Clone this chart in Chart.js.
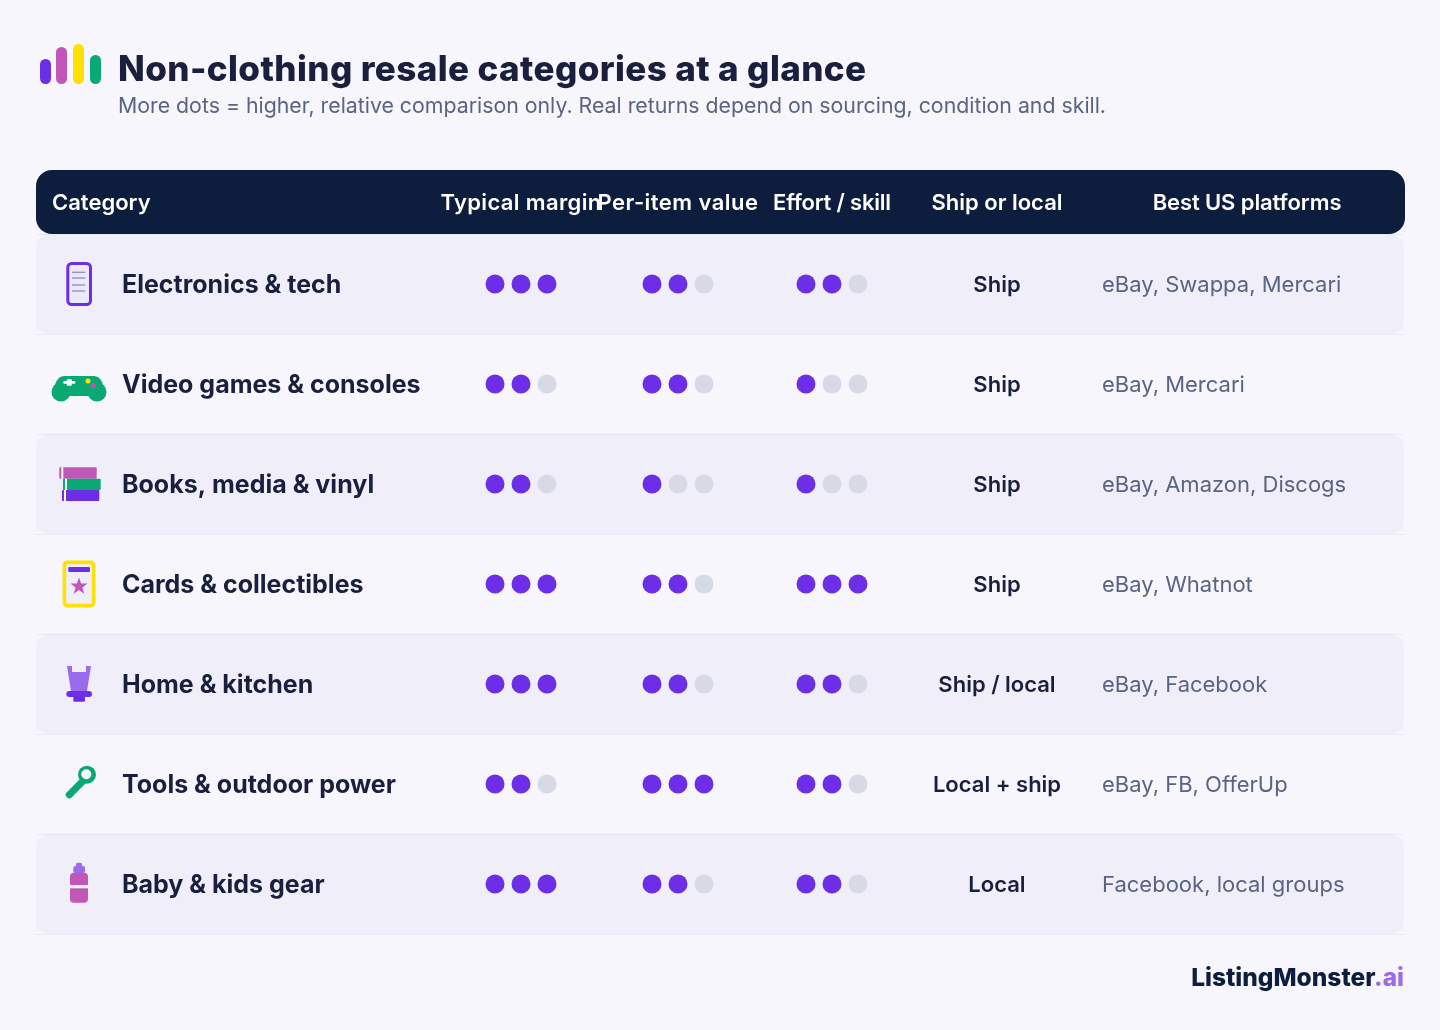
<!DOCTYPE html>
<html>
<head>
<meta charset="utf-8">
<title>Non-clothing resale categories at a glance</title>
<script src="https://cdn.jsdelivr.net/npm/chart.js@4"></script>
<style>
    html, body { margin: 0; padding: 0; background: #f7f6fc; }
    body { position: relative; width: 1440px; height: 1030px; overflow: hidden; font-family: Inter, sans-serif; }
    canvas { position: absolute; left: 0; top: 0; }
    .abs { position: absolute; white-space: nowrap; }
    #title { left: 118px; top: 45px; line-height: 46px; font-size: 35px; font-weight: 800; color: #1a1f3d; letter-spacing: 0.4px; }
    #subtitle { left: 118px; top: 91px; line-height: 28px; font-size: 21.3px; color: #5a6482; }
    #headBar { left: 36px; top: 170px; width: 1368.5px; height: 64px; border-radius: 16px; background: #0d1d3d; }
    .head { top: 170px; line-height: 64px; font-size: 22px; font-weight: 600; color: #fff; transform: translateX(-50%); }
    #footer { right: 36px; top: 960px; line-height: 34px; font-size: 24.5px; font-weight: 800; color: #0d1d3d; }
    #footer span { color: #9a6bed; }
    .logoBar { position: absolute; width: 10.7px; bottom: 946px; border-radius: 5.4px; }
</style>
</head>
<body>
<canvas id="chart" width="1440" height="1030"></canvas>

<div class="logoBar" style="left:40px;height:25.3px;background:#6d2ee8"></div>
<div class="logoBar" style="left:56.3px;height:37.3px;background:#bf56b8"></div>
<div class="logoBar" style="left:73.3px;height:40px;background:#ffe000"></div>
<div class="logoBar" style="left:90px;height:29.3px;background:#0aa973"></div>

<div id="title" class="abs">Non-clothing resale categories at a glance</div>
<div id="subtitle" class="abs">More dots = higher, relative comparison only. Real returns depend on sourcing, condition and skill.</div>
<div id="headBar" class="abs"></div>
<div id="headers"></div>
<div id="footer" class="abs">ListingMonster<span>.ai</span></div>

<script>
const categories = ['Electronics & tech', 'Video games & consoles', 'Books, media & vinyl', 'Cards & collectibles', 'Home & kitchen', 'Tools & outdoor power', 'Baby & kids gear'];
const marginDots = [3, 2, 2, 3, 3, 2, 3];
const valueDots = [2, 2, 1, 2, 2, 3, 2];
const effortDots = [2, 1, 1, 3, 2, 2, 2];
const shipping = ['Ship', 'Ship', 'Ship', 'Ship', 'Ship / local', 'Local + ship', 'Local'];
const platforms = ['eBay, Swappa, Mercari', 'eBay, Mercari', 'eBay, Amazon, Discogs', 'eBay, Whatnot', 'eBay, Facebook', 'eBay, FB, OfferUp', 'Facebook, local groups'];
const headers = ['Typical margin', 'Per-item value', 'Effort / skill', 'Ship or local', 'Best US platforms'];

// column layout, in the x scale's units
const headerCenters = [521, 678, 832, 997, 1247];
const headerSpacing = [0.35, 0.45, -0.2, 0, -0.1];
const dotColumns = [521, 678, 832];
const dotGap = 26;
const maxDots = 3;

const PURPLE = '#6d2ee8', LILAC = '#9a6bed', MAGENTA = '#bf56b8', YELLOW = '#ffe000', GREEN = '#0aa973';
const ROW_FILL = '#f0eff9', PAGE = '#f7f6fc';

const headerRow = document.getElementById('headers');
const categoryHead = document.createElement('div');
categoryHead.className = 'abs head';
categoryHead.style.left = '52px';
categoryHead.style.transform = 'none';
categoryHead.textContent = 'Category';
headerRow.appendChild(categoryHead);
headers.forEach((h, i) => {
    const el = document.createElement('div');
    el.className = 'abs head';
    el.style.left = headerCenters[i] + 'px';
    el.style.letterSpacing = headerSpacing[i] + 'px';
    el.textContent = h;
    headerRow.appendChild(el);
});

// Turn the ratings into one point per dot, split into on and off
function buildDots(on) {
    const points = [];
    [marginDots, valueDots, effortDots].forEach((ratings, c) => {
        ratings.forEach((rating, r) => {
            for (let d = 0; d < maxDots; d++) {
                if ((d < rating) === on) {
                    points.push({ x: dotColumns[c] + (d - 1) * dotGap, y: categories[r] });
                }
            }
        });
    });
    return points;
}

function box(ctx, x, y, w, h, r, color) {
    ctx.fillStyle = color;
    ctx.beginPath();
    ctx.roundRect(x, y, w, h, r);
    ctx.fill();
}

function disc(ctx, x, y, r, color) {
    ctx.fillStyle = color;
    ctx.beginPath();
    ctx.arc(x, y, r, 0, Math.PI * 2);
    ctx.fill();
}

// Icons, drawn around the middle of their row
const icons = [
    function phone(ctx) {
        ctx.beginPath();
        ctx.roundRect(-11.2, -20.5, 22.7, 41, 4);
        ctx.fillStyle = '#ece9fb';
        ctx.fill();
        ctx.lineWidth = 3;
        ctx.strokeStyle = PURPLE;
        ctx.stroke();
        ctx.lineWidth = 1.4;
        ctx.strokeStyle = '#9a8fd0';
        [-11.7, -6, 1, 7].forEach(y => {
            ctx.beginPath();
            ctx.moveTo(-7, y);
            ctx.lineTo(6.3, y);
            ctx.stroke();
        });
    },
    function gamepad(ctx) {
        disc(ctx, -18, 8, 9.5, GREEN);
        disc(ctx, 18, 8, 9.5, GREEN);
        ctx.fillStyle = GREEN;
        ctx.beginPath();
        ctx.moveTo(-15, -8);
        ctx.lineTo(15, -8);
        ctx.quadraticCurveTo(20, -8, 23, -2);
        ctx.lineTo(27, 8);
        ctx.lineTo(-27, 8);
        ctx.lineTo(-23, -2);
        ctx.quadraticCurveTo(-20, -8, -15, -8);
        ctx.fill();
        ctx.fillRect(-18, 6, 36, 6);
        box(ctx, -15.7, -3, 12, 2.8, 1, '#fff');
        box(ctx, -12.2, -4.7, 5, 6.4, 1, '#fff');
        disc(ctx, 9, -3, 2.5, YELLOW);
        disc(ctx, 14, 1.7, 2.5, MAGENTA);
    },
    function books(ctx) {
        box(ctx, -19.7, -16.7, 37.4, 11.4, 1, MAGENTA);
        box(ctx, -17.7, -16.7, 2, 11.4, 0, '#fff');
        box(ctx, -16, -5.3, 37.7, 11.3, 1, GREEN);
        box(ctx, -14, -5.3, 2, 11.3, 0, '#fff');
        box(ctx, -17, 6, 37.3, 11, 1, PURPLE);
        box(ctx, -15, 6, 2, 11, 0, '#fff');
    },
    function card(ctx) {
        ctx.beginPath();
        ctx.roundRect(-14.6, -21.6, 29.2, 43.2, 3);
        ctx.fillStyle = ROW_FILL;
        ctx.fill();
        ctx.lineWidth = 3.6;
        ctx.strokeStyle = YELLOW;
        ctx.stroke();
        box(ctx, -10.7, -17, 21.7, 5, 1, PURPLE);
        ctx.fillStyle = MAGENTA;
        ctx.beginPath();
        for (let i = 0; i < 10; i++) {
            const r = i % 2 ? 3.6 : 9;
            const a = -Math.PI / 2 + i * Math.PI / 5;
            ctx.lineTo(r * Math.cos(a), 2.4 + r * Math.sin(a));
        }
        ctx.closePath();
        ctx.fill();
    },
    function blender(ctx) {
        ctx.fillStyle = LILAC;
        ctx.beginPath();
        ctx.moveTo(-12, -18);
        ctx.lineTo(-7, -18);
        ctx.lineTo(-7, -12);
        ctx.lineTo(7, -12);
        ctx.lineTo(7, -18);
        ctx.lineTo(12, -18);
        ctx.lineTo(8, 7);
        ctx.lineTo(-8, 7);
        ctx.closePath();
        ctx.fill();
        box(ctx, -12.7, 7, 25.7, 6, 3, PURPLE);
        box(ctx, -5.7, 12, 11.7, 5.7, 1.5, PURPLE);
    },
    function wrench(ctx) {
        ctx.strokeStyle = GREEN;
        ctx.lineCap = 'round';
        ctx.lineWidth = 7;
        ctx.beginPath();
        ctx.moveTo(-9.7, 10.7);
        ctx.lineTo(4, -3);
        ctx.stroke();
        disc(ctx, 8, -9.3, 9, GREEN);
        disc(ctx, 7.3, -9.7, 5, PAGE);
    },
    function bottle(ctx) {
        box(ctx, -3, -21.3, 6, 6, 1.5, LILAC);
        box(ctx, -5.7, -18, 11.7, 7, 2, LILAC);
        box(ctx, -9, -11.3, 18, 30, 4, MAGENTA);
        ctx.fillStyle = PAGE;
        ctx.fillRect(-9, 1, 18, 3.3);
    }
];

// Row bands and icons go under the grid and dots
const tableRows = {
    id: 'tableRows',
    beforeDatasetsDraw(chart) {
        const { ctx, chartArea, scales } = chart;
        ctx.save();
        categories.forEach((cat, r) => {
            const mid = scales.y.getPixelForValue(r);
            ctx.save();
            ctx.translate(chartArea.left + 43, mid);
            icons[r](ctx);
            ctx.restore();
        });
        ctx.restore();
    },
    beforeDraw(chart) {
        const { ctx, chartArea, scales } = chart;
        const band = scales.y.getPixelForValue(1) - scales.y.getPixelForValue(0);
        ctx.save();
        categories.forEach((cat, r) => {
            if (r % 2 === 0) {
                const mid = scales.y.getPixelForValue(r);
                box(ctx, chartArea.left, mid - band / 2 + 1, chartArea.width, band - 1, 12, ROW_FILL);
            }
        });
        ctx.restore();
    },
    afterDatasetsDraw(chart) {
        const { ctx, scales } = chart;
        ctx.save();
        ctx.textBaseline = 'middle';
        categories.forEach((cat, r) => {
            const mid = scales.y.getPixelForValue(r) + 1;
            ctx.font = '600 22px Inter, sans-serif';
            ctx.fillStyle = '#1a1f3d';
            ctx.textAlign = 'center';
            ctx.fillText(shipping[r], scales.x.getPixelForValue(997), mid);
            ctx.font = '400 22px Inter, sans-serif';
            ctx.fillStyle = '#5a6482';
            ctx.textAlign = 'left';
            ctx.fillText(platforms[r], scales.x.getPixelForValue(1102), mid);
        });
        ctx.restore();
    }
};

new Chart(document.getElementById('chart').getContext('2d'), {
    type: 'scatter',
    data: {
        datasets: [
            { label: 'On', data: buildDots(true), backgroundColor: PURPLE, borderWidth: 0, pointRadius: 9.5, pointHoverRadius: 9.5 },
            { label: 'Off', data: buildDots(false), backgroundColor: '#d8d9e6', borderWidth: 0, pointRadius: 9.5, pointHoverRadius: 9.5 }
        ]
    },
    options: {
        responsive: false,
        animation: false,
        layout: { padding: { left: 36, right: 36, top: 234, bottom: 96 } },
        plugins: { legend: { display: false }, title: { display: false }, tooltip: { enabled: false } },
        scales: {
            x: { type: 'linear', min: 36, max: 1404, display: false },
            y: {
                type: 'category',
                labels: categories,
                offset: true,
                border: { display: false },
                grid: { offset: true, color: '#e9e8f2', drawTicks: false },
                // labels sit inside the plot, so the axis takes no room of its own
                afterFit(scale) {
                    scale.width = 0;
                    scale.paddingTop = 0;
                    scale.paddingBottom = 0;
                },
                ticks: {
                    mirror: true,
                    padding: 86,
                    labelOffset: 1,
                    autoSkip: false,
                    color: '#1a1f3d',
                    font: { family: 'Inter, sans-serif', size: 25, weight: '700' }
                }
            }
        }
    },
    plugins: [tableRows]
});
</script>
</body>
</html>
